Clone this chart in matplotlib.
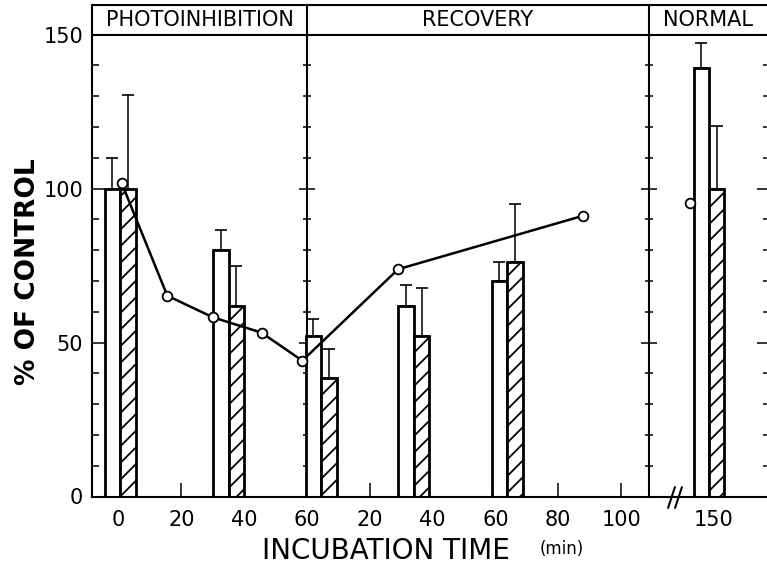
import matplotlib
matplotlib.use("Agg")
import matplotlib.pyplot as plt
from matplotlib.ticker import MultipleLocator, FixedLocator, NullFormatter
import numpy as np

plt.rcParams['font.family'] = ['DejaVu Sans']
plt.rcParams['hatch.linewidth'] = 1.3

# ---------------- data ----------------
# bar groups (minutes within each section; value = boundary between the two bars)
photo_groups = [0.5, 35]
rec_groups = [4.5, 34, 63.7]
norm_groups = [148.7]

open_photo = [100, 80]
open_rec = [52, 62, 70]
open_norm = [139]
open_err_photo = [10, 6.5]
open_err_rec = [5.6, 6.7, 6.2]
open_err_norm = [8.3]

hatch_photo = [100, 62]
hatch_rec = [38.4, 52.2, 76.2]
hatch_norm = [100]
hatch_err_photo = [30.4, 13]
hatch_err_rec = [9.5, 15.6, 18.7]
hatch_err_norm = [20.3]

# line with open circles
line_photo_t = [1, 15.5, 30, 45.5, 58.5]
line_photo_v = [101.7, 65.2, 58.2, 53.2, 44.1]
line_rec_t = [29, 88]
line_rec_v = [73.8, 91.2]
norm_point_t = [142.5]
norm_point_v = [95.2]

photo_ticks = [0, 20, 40, 60]
rec_ticks = [20, 40, 60, 80, 100]
norm_ticks = [150]
section_labels = ["PHOTOINHIBITION", "RECOVERY", "NORMAL"]

# ---------------- axis mapping ----------------
REC_OFFSET = 60.0
NORM_OFFSET = 39.3
REC_END = 108.9
XMIN, XMAX = -8.47, 207.4
YMAX = 159.6


def p_photo(t):
    return np.asarray(t, dtype=float)


def p_rec(t):
    return np.asarray(t, dtype=float) + REC_OFFSET


def p_norm(t):
    return np.asarray(t, dtype=float) + NORM_OFFSET


W = 767
H = 569
fig = plt.figure(figsize=(W / 100, H / 100), dpi=100)
ax = fig.add_axes([92 / W, (H - 496.5) / H, (770 - 92) / W, (496.5 - 5) / H])
ax.set_xlim(XMIN, XMAX)
ax.set_ylim(0, YMAX)

bw = 4.9
centers = np.concatenate([p_photo(photo_groups), p_rec(rec_groups), p_norm(norm_groups)])
open_vals = open_photo + open_rec + open_norm
open_errs = open_err_photo + open_err_rec + open_err_norm
hatch_vals = hatch_photo + hatch_rec + hatch_norm
hatch_errs = hatch_err_photo + hatch_err_rec + hatch_err_norm

ax.bar(centers - bw / 2, open_vals, width=bw, color='white', edgecolor='black',
       linewidth=2.0, zorder=2)
ax.bar(centers + bw / 2, hatch_vals, width=bw, color='white', edgecolor='black',
       linewidth=2.0, hatch='//', zorder=2)
ax.errorbar(centers - bw / 2, open_vals, yerr=[np.zeros(len(open_vals)), open_errs],
            fmt='none', ecolor='black', elinewidth=1.1, capsize=4, capthick=1.2, zorder=3)
ax.errorbar(centers + bw / 2, hatch_vals, yerr=[np.zeros(len(hatch_vals)), hatch_errs],
            fmt='none', ecolor='black', elinewidth=1.1, capsize=4, capthick=1.2, zorder=3)

lx = np.concatenate([p_photo(line_photo_t), p_rec(line_rec_t)])
ly = line_photo_v + line_rec_v
ax.plot(lx, ly, '-o', color='black', lw=1.8, markersize=7, markerfacecolor='white',
        markeredgecolor='black', markeredgewidth=1.3, zorder=5)
ax.plot(p_norm(norm_point_t), norm_point_v, 'o', markersize=7, markerfacecolor='white',
        markeredgecolor='black', markeredgewidth=1.3, zorder=5)

# header band
ax.axhline(150, color='black', lw=1.5, zorder=4)
bounds = [XMIN, REC_OFFSET, REC_OFFSET + REC_END, XMAX - 0.9]
for i, lab in enumerate(section_labels):
    ax.text((bounds[i] + bounds[i + 1]) / 2, (150 + YMAX) / 2, lab, ha='center',
            va='center', fontsize=15)

# spines
for s in ax.spines.values():
    s.set_linewidth(1.5)

# y ticks
ax.yaxis.set_major_locator(FixedLocator([0, 50, 100, 150]))
ax.yaxis.set_minor_locator(MultipleLocator(10))
ax.tick_params(axis='y', which='major', direction='in', length=9.5, width=1.1,
               labelsize=15, pad=6.5, right=True, left=True)
ax.tick_params(axis='y', which='minor', direction='in', length=5, width=1.1,
               right=True, left=True)

# x ticks
tick_pos = list(p_photo(photo_ticks)) + list(p_rec(rec_ticks)) + list(p_norm(norm_ticks))
tick_lab = [str(t) for t in photo_ticks] + [str(t) for t in rec_ticks] + [str(t) for t in norm_ticks]
ax.set_xticks(tick_pos)
ax.set_xticklabels(tick_lab)
ax.xaxis.remove_overlapping_locs = False
ax.xaxis.set_minor_locator(FixedLocator([p_photo(20), p_rec(20), p_rec(80), p_rec(100)]))
ax.tick_params(axis='x', which='major', length=0, labelsize=15, pad=10)
ax.tick_params(axis='x', which='minor', direction='in', length=10, width=1.1)

# section dividers with crossing ticks
for xd in [REC_OFFSET, REC_OFFSET + REC_END]:
    loc = (xd - XMIN) / (XMAX - XMIN)
    sec = ax.secondary_yaxis(loc)
    for sp in sec.spines.values():
        sp.set_linewidth(1.5)
    sec.yaxis.set_major_locator(FixedLocator([0, 50, 100, 150]))
    sec.yaxis.set_minor_locator(MultipleLocator(10))
    sec.yaxis.set_major_formatter(NullFormatter())
    sec.yaxis.set_minor_formatter(NullFormatter())
    sec.tick_params(which='major', direction='inout', length=12, width=1.1,
                    labelleft=False, labelright=False)
    sec.tick_params(which='minor', direction='inout', length=6, width=1.1)

# axis break marks
brk = 177.0
for dx in (-1.2, 1.2):
    ax.plot([brk + dx], [0], marker=[(-0.33, -1), (0.33, 1)], markersize=16,
            markeredgewidth=1.5, color='black', clip_on=False, zorder=6)

fig.text(28 / W, 1 - 272 / H, "% OF CONTROL", rotation=90, ha='center', va='center',
         fontsize=19, fontweight='bold')
fig.text(386 / W, 1 - 551 / H, "INCUBATION TIME", ha='center', va='center', fontsize=20)
fig.text(562 / W, 1 - 549 / H, "(min)", ha='center', va='center', fontsize=12)

fig.savefig("out.png", dpi=100, facecolor='white')
